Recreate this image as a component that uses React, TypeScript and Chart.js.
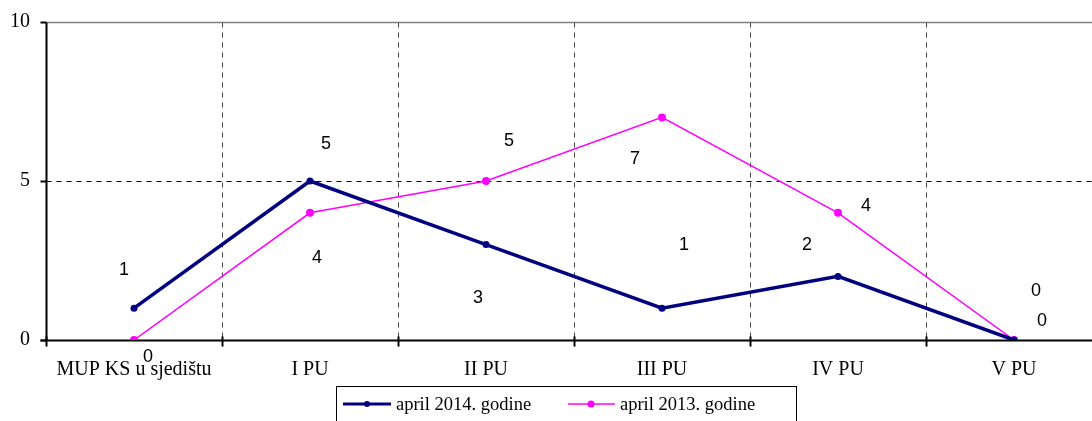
import React, { useEffect, useRef } from "react";
import { Chart, registerables } from "chart.js";

Chart.register(...registerables);

const categories = ["MUP KS u sjedištu", "I PU", "II PU", "III PU", "IV PU", "V PU"];
const series2014 = [1, 5, 3, 1, 2, 0];
const series2013 = [0, 4, 5, 7, 4, 0];
const yTicks = [0, 5, 10];
const label2014 = "april 2014. godine";
const label2013 = "april 2013. godine";

// label offsets (px) relative to each point, as in the reference layout
const off2014: [number, number][] = [[-10, -38], [16, -37], [-8, 53], [22, -63], [-31, -31], [28, -19]];
const off2013: [number, number][] = [[14, 17], [7, 45], [23, -40], [-27, 42], [28, -7], [22, -49]];

const NAVY = "#000080";
const MAGENTA = "#FF00FF";
const SERIF = "'Liberation Serif', 'Times New Roman', serif";
const SANS = "'Liberation Sans', Arial, sans-serif";

const framePlugin = {
  id: "frame",
  beforeDatasetsDraw(chart: any) {
    const { ctx, chartArea } = chart;
    const xs = chart.scales.x;
    const ys = chart.scales.y;
    const L = Math.round(chartArea.left) + 0.5;
    const R = chartArea.right;
    const B = Math.round(ys.getPixelForValue(0)) + 0.5;
    ctx.save();
    const T = Math.round(ys.getPixelForValue(10)) + 0.5;
    ctx.strokeStyle = "#808080";
    ctx.lineWidth = 1.5;
    ctx.beginPath();
    ctx.moveTo(L, T);
    ctx.lineTo(R, T);
    ctx.stroke();
    ctx.lineWidth = 1;
    ctx.strokeStyle = "#000";
    ctx.setLineDash([5, 5]);
    const M = Math.round(ys.getPixelForValue(5)) + 0.5;
    ctx.beginPath();
    ctx.moveTo(L, M);
    ctx.lineTo(R, M);
    ctx.stroke();
    ctx.strokeStyle = "#444";
    for (let i = 0; i < categories.length - 1; i++) {
      const x = Math.round((xs.getPixelForValue(i) + xs.getPixelForValue(i + 1)) / 2) + 0.5;
      ctx.beginPath();
      ctx.moveTo(x, T);
      ctx.lineTo(x, B);
      ctx.stroke();
    }
    ctx.setLineDash([]);
    ctx.strokeStyle = "#000";
    ctx.lineWidth = 2;
    ctx.beginPath();
    ctx.moveTo(L, T);
    ctx.lineTo(L, B);
    ctx.moveTo(L - 6, B);
    ctx.lineTo(R, B);
    ctx.stroke();
    for (const v of yTicks) {
      const y = Math.round(ys.getPixelForValue(v)) + 0.5;
      ctx.beginPath();
      ctx.moveTo(L - 6, y);
      ctx.lineTo(L, y);
      ctx.stroke();
    }
    for (let i = 0; i < categories.length; i++) {
      const x = i === 0 ? L : Math.round((xs.getPixelForValue(i - 1) + xs.getPixelForValue(i)) / 2) + 0.5;
      ctx.beginPath();
      ctx.moveTo(x, B - 4);
      ctx.lineTo(x, B + 6);
      ctx.stroke();
    }
    ctx.restore();
  },
  afterDatasetsDraw(chart: any) {
    const { ctx } = chart;
    ctx.save();
    ctx.font = `18px ${SANS}`;
    ctx.fillStyle = "#000";
    ctx.textAlign = "center";
    ctx.textBaseline = "middle";
    const draw = (di: number, offs: [number, number][], vals: number[]) => {
      const meta = chart.getDatasetMeta(di);
      meta.data.forEach((pt: any, i: number) => {
        ctx.fillText(String(vals[i]), pt.x + offs[i][0], pt.y + offs[i][1]);
      });
    };
    draw(0, off2014, series2014);
    draw(1, off2013, series2013);

    // legend
    const bx = 336.5, by = 386.5, bw = 460, bh = 40;
    ctx.strokeStyle = "#000";
    ctx.lineWidth = 1;
    ctx.strokeRect(bx, by, bw, bh);
    const cy = 404;
    ctx.strokeStyle = NAVY;
    ctx.lineWidth = 3;
    ctx.beginPath();
    ctx.moveTo(343, cy);
    ctx.lineTo(391, cy);
    ctx.stroke();
    ctx.fillStyle = NAVY;
    ctx.beginPath();
    ctx.arc(367, cy, 3, 0, Math.PI * 2);
    ctx.fill();
    ctx.strokeStyle = MAGENTA;
    ctx.lineWidth = 1.5;
    ctx.beginPath();
    ctx.moveTo(568, cy);
    ctx.lineTo(615, cy);
    ctx.stroke();
    ctx.fillStyle = MAGENTA;
    ctx.beginPath();
    ctx.arc(591, cy, 3.5, 0, Math.PI * 2);
    ctx.fill();
    ctx.fillStyle = "#000";
    ctx.font = `18.5px ${SERIF}`;
    ctx.textAlign = "left";
    ctx.fillText(label2014, 396, cy + 1);
    ctx.fillText(label2013, 620, cy + 1);
    ctx.restore();
  },
};

export default function App() {
  const ref = useRef<HTMLCanvasElement>(null);
  useEffect(() => {
    document.body.style.margin = "0";
    const chart = new Chart(ref.current!, {
      type: "line",
      data: {
        labels: categories,
        datasets: [
          {
            label: label2014,
            data: series2014,
            borderColor: NAVY,
            backgroundColor: NAVY,
            borderWidth: 3.5,
            pointRadius: 3.5,
            pointBackgroundColor: NAVY,
            pointBorderWidth: 0,
            tension: 0,
          },
          {
            label: label2013,
            data: series2013,
            borderColor: MAGENTA,
            backgroundColor: MAGENTA,
            borderWidth: 1.5,
            pointRadius: 4,
            pointBackgroundColor: MAGENTA,
            pointBorderWidth: 0,
            tension: 0,
          },
        ],
      },
      options: {
        animation: false,
        responsive: false,
        maintainAspectRatio: false,
        layout: { padding: { top: 22, right: 8, bottom: 31, left: 0 } },
        plugins: { legend: { display: false }, tooltip: { enabled: false } },
        scales: {
          x: {
            offset: true,
            grid: { display: false },
            border: { display: false },
            ticks: {
              color: "#000",
              font: { family: SERIF, size: 20 },
              padding: 10,
              maxRotation: 0,
              autoSkip: false,
            },
            afterFit(scale: any) {
              scale.height = 50;
            },
          },
          y: {
            min: 0,
            max: 10,
            grid: { display: false },
            border: { display: false },
            afterBuildTicks(scale: any) {
              scale.ticks = yTicks.map((v) => ({ value: v }));
            },
            ticks: {
              color: "#000",
              font: { family: SERIF, size: 20 },
              padding: 8,
            },
            afterFit(scale: any) {
              scale.width = 46;
            },
          },
        },
      },
      plugins: [framePlugin],
    });
    return () => chart.destroy();
  }, []);
  return (
    <div style={{ width: 1092, height: 421, overflow: "hidden" }}>
      <canvas ref={ref} width={1110} height={421} style={{ display: "block", width: 1110, height: 421 }} />
    </div>
  );
}
